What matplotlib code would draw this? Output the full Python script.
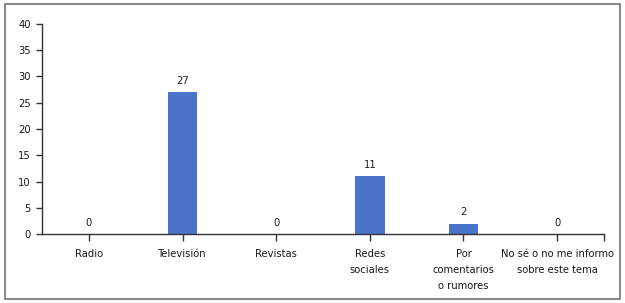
import numpy as np
import matplotlib.pyplot as plt
from matplotlib.patches import Rectangle

categorias = ['Radio', 'Televisión', 'Revistas', 'Redes\nsociales',
              'Por\ncomentarios\no rumores', 'No sé o no me informo\nsobre este tema']
valores = [0, 27, 0, 11, 2, 0]
yticks = [0, 5, 10, 15, 20, 25, 30, 35, 40]

plt.rcParams['font.family'] = ['DejaVu Sans']
plt.rcParams['font.stretch'] = 'condensed'
plt.rcParams['font.size'] = 8

fig = plt.figure(figsize=(6.25, 3.03), dpi=100)
fig.patches.append(Rectangle((0.008, 0.013), 0.984, 0.974, transform=fig.transFigure,
                             fill=False, edgecolor='#8a8a8a', linewidth=1.5))
ax = fig.add_axes([0.0672, 0.2277, 0.8992, 0.6931])

x = np.arange(len(categorias))
bars = ax.bar(x, valores, width=0.32, color='#4a74c9')
for xi, v in zip(x, valores):
    ax.text(xi, v + 1.2, str(v), ha='center', va='bottom', color='#1a1a1a')

ax.set_xlim(-0.5, len(categorias) - 0.5)
ax.set_ylim(0, 40)
ax.set_yticks(yticks)
ax.set_xticks(x)
ax.set_xticklabels(categorias, linespacing=1.75, color='#1a1a1a')
ax.set_xticks([len(categorias) - 0.5], minor=True)
ax.tick_params(axis='x', which='both', direction='out', length=5, width=1, color='#333333', pad=6)
ax.tick_params(axis='y', direction='out', length=4, width=1, color='#333333', labelcolor='#1a1a1a', pad=4)
for s in ['top', 'right']:
    ax.spines[s].set_visible(False)
for s in ['left', 'bottom']:
    ax.spines[s].set_color('#333333')
    ax.spines[s].set_linewidth(1)

fig.savefig('out.png', dpi=100)
